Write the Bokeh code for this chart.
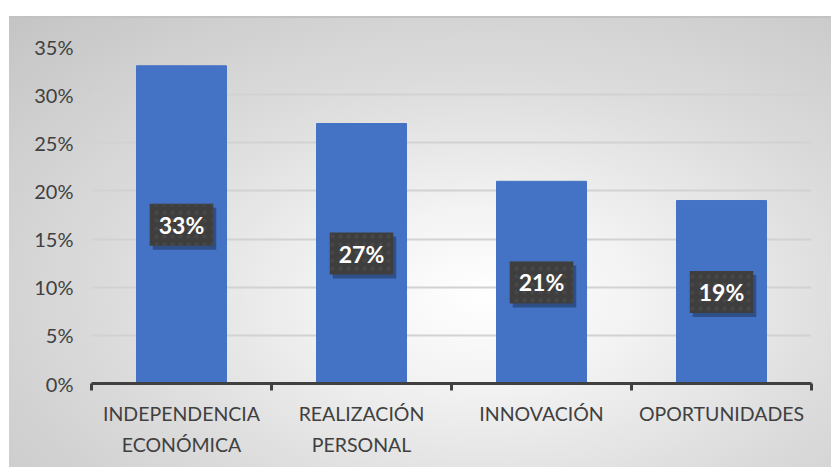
from bokeh.plotting import figure
from bokeh.models import FixedTicker, NumeralTickFormatter, Range1d
from bokeh.core.properties import value
from bokeh.embed import file_html
from bokeh.resources import INLINE

categories = ["INDEPENDENCIA\nECONÓMICA", "REALIZACIÓN\nPERSONAL", "INNOVACIÓN", "OPORTUNIDADES"]
values = [0.33, 0.27, 0.21, 0.19]
labels = ["33%", "27%", "21%", "19%"]
y_ticks = [0.0, 0.05, 0.10, 0.15, 0.20, 0.25, 0.30, 0.35]

x = [i + 0.5 for i in range(len(categories))]
bounds = [float(i) for i in range(len(categories) + 1)]
mid = [v / 2 for v in values]

FONT = "Lato"
TXT = "#404040"

styles = {
    "background-color": "white",
    "background-image": "linear-gradient(#c2c2c2, #c2c2c2), "
                        "radial-gradient(ellipse farthest-corner at 58% 62%, #ffffff 0%, #f3f3f3 22%, #dcdcdc 55%, #c4c4c4 100%)",
    "background-repeat": "no-repeat, no-repeat",
    "background-position": "9px 16px, 9px 16px",
    "background-size": "calc(100% - 9px) 2px, calc(100% - 9px) calc(100% - 16px)",
}

p = figure(width=831, height=467, output_backend="svg", toolbar_location=None,
           x_range=Range1d(0, len(categories)), y_range=Range1d(0, 0.35),
           min_border_left=91, min_border_right=20, min_border_top=46, min_border_bottom=84,
           styles=styles)
p.border_fill_alpha = 0
p.background_fill_alpha = 0
p.outline_line_color = None

# grid
p.xgrid.visible = False
p.ygrid.grid_line_color = "#d2d2d2"
p.ygrid.grid_line_width = 2
p.ygrid.ticker = FixedTicker(ticks=y_ticks)

# y axis
p.yaxis.ticker = FixedTicker(ticks=y_ticks)
p.yaxis.formatter = NumeralTickFormatter(format="0%")
p.yaxis.axis_line_color = None
p.yaxis.major_tick_line_color = None
p.yaxis.minor_tick_line_color = None
p.yaxis.major_tick_out = 0
p.yaxis.major_tick_in = 0
p.yaxis.major_label_standoff = 18
p.yaxis.major_label_text_font = FONT
p.yaxis.major_label_text_font_size = "20px"
p.yaxis.major_label_text_color = TXT

# x axis
p.xaxis.ticker = FixedTicker(ticks=x, minor_ticks=bounds)
p.xaxis.major_label_overrides = {xx: c for xx, c in zip(x, categories)}
p.xaxis.axis_line_color = "#404040"
p.xaxis.axis_line_width = 3
p.xaxis.major_tick_line_color = None
p.xaxis.minor_tick_line_color = "#404040"
p.xaxis.minor_tick_line_width = 3
p.xaxis.minor_tick_out = 7
p.xaxis.minor_tick_in = 0
p.xaxis.major_tick_out = 0
p.xaxis.major_tick_in = 0
p.xaxis.major_label_standoff = 11
p.xaxis.major_label_text_font = FONT
p.xaxis.major_label_text_font_size = "19.5px"
p.xaxis.major_label_text_color = TXT
p.xaxis.major_label_text_line_height = 1.35

# bars
p.vbar(x=x, top=values, width=0.5, color="#4472C4")

# label shadows
p.text(x=x, y=mid, text=labels, x_offset=3, y_offset=4,
       text_align="center", text_baseline="middle",
       text_font=value(FONT), text_font_style="bold", text_font_size="23px",
       text_alpha=0, background_fill_color="#000000", background_fill_alpha=0.3,
       padding=dict(x=9, y=7))
# labels
p.text(x=x, y=mid, text=labels,
       text_align="center", text_baseline="middle",
       text_font=value(FONT), text_font_style="bold", text_font_size="23px",
       text_color="white", background_fill_color="#3e3e3e",
       background_hatch_pattern="dot", background_hatch_color="#474747",
       background_hatch_scale=8,
       padding=dict(x=9, y=7))

open("out.html", "w").write(file_html(p, INLINE))
